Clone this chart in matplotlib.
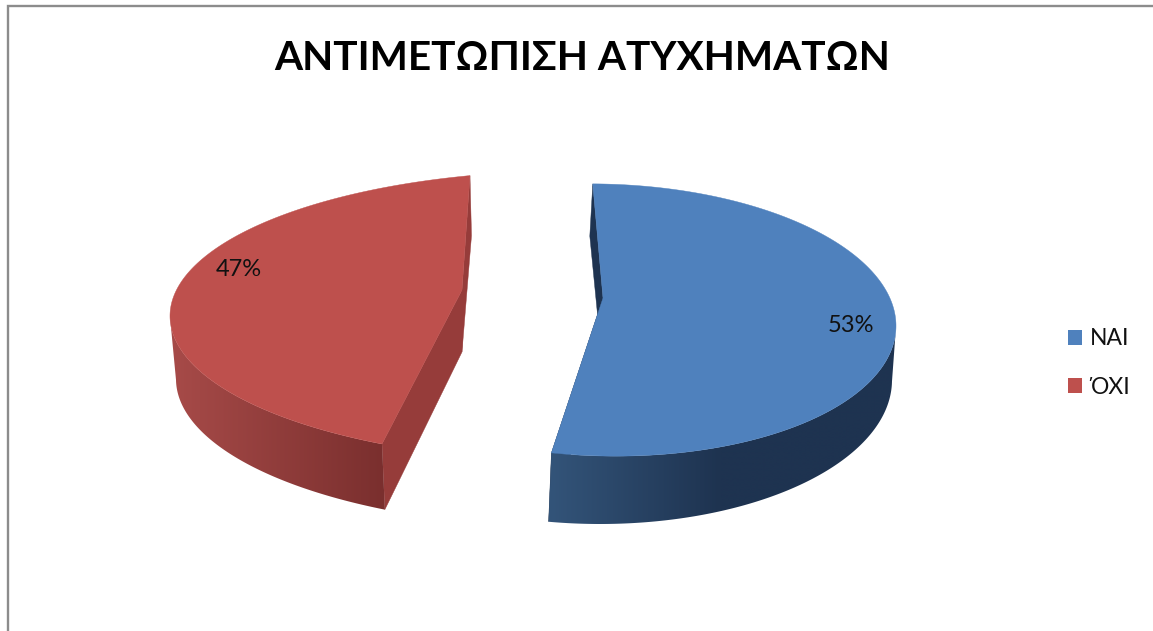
import numpy as np
import matplotlib
matplotlib.use("Agg")
import matplotlib.pyplot as plt
from matplotlib.patches import Polygon, Patch
from matplotlib.colors import to_rgb

# ---- data ----
categories = ["ΝΑΙ", "ΌΧΙ"]
values = [53, 47]
title_text = "ΑΝΤΙΜΕΤΩΠΙΣΗ ΑΤΥΧΗΜΑΤΩΝ"

# ---- styles ----
face_colors = ["#4F81BD", "#BE504D"]
wall_left = ["#335479", "#A64A48"]
wall_right = ["#1E3350", "#7A2F2E"]
cut_colors = ["#1E3350", "#963C3A"]
FONT = ["Lato", "Noto Sans"]

# perspective description of each exploded slice (ellipse of upper and lower rim, apex,
# start of the rim parameter, angle scale, silhouette angle, x-range of the shading)
geom = [
    dict(up=(603, 320, 293, 136, 0.02), lo=(600, 380, 292, 144, 0.0),
         apex_u=(603, 298), apex_l=(602, 360), t0=-2.0, scale=1.007,
         sil=90.0, grad=(550, 720)),
    dict(up=(570, 316, 400, 145, 0.0), lo=(570, 379, 394, 148, 0.0),
         apex_u=(462, 290), apex_l=(462, 352), t0=208.03, scale=0.8126,
         sil=270.0, grad=(176, 385)),
]


def rim(e, t_deg):
    xc, yc, rx, ry, tilt = e
    t = np.radians(np.asarray(t_deg, float))
    x = xc + rx * np.sin(t)
    y = yc + tilt * (x - xc) - ry * np.cos(t)
    return np.c_[x, y]


fig = plt.figure(figsize=(11.53, 6.31), dpi=100)
ax = fig.add_axes([0, 0, 1, 1])
ax.axis("off")

# chart frame (left and top edges only are visible)
ax.plot([7.8, 7.8, 1153], [631, 6.2, 6.2], color="#8C8C8C", lw=1.7, solid_joinstyle="miter")

edges = np.r_[0, np.cumsum(np.array(values) / sum(values))] * 360.0

for i, g in enumerate(geom):
    a0, a1 = edges[i], edges[i + 1]
    t = g["t0"] + (np.linspace(a0, a1, 300) - a0) * g["scale"]
    up = rim(g["up"], t)
    lo = rim(g["lo"], t)
    # the end of each slice that lies at the front / back
    front_t = t[-1] if i == 0 else t[0]
    back_t = t[0] if i == 0 else t[-1]
    fu, fl = rim(g["up"], [front_t])[0], rim(g["lo"], [front_t])[0]
    bu, bl = rim(g["up"], [back_t])[0], rim(g["lo"], [back_t])[0]

    # cut faces
    ax.add_patch(Polygon([bu, g["apex_u"], g["apex_l"], bl], closed=True, fc=cut_colors[i], ec=cut_colors[i], lw=0.3, zorder=2))
    ax.add_patch(Polygon([fu, g["apex_u"], g["apex_l"], fl], closed=True, fc=cut_colors[i], ec=cut_colors[i], lw=0.3, zorder=2))

    # outer wall: shaded image clipped to the visible wall band
    mask = (t >= g["sil"]) if i == 0 else (t <= g["sil"])
    wall = np.vstack([up[mask], lo[mask][::-1]])
    patch = Polygon(wall, closed=True, fc="none", ec="none", transform=ax.transData)
    ax.add_patch(patch)
    c0, c1 = np.array(to_rgb(wall_left[i])), np.array(to_rgb(wall_right[i]))
    xs = np.arange(wall[:, 0].min() - 3, wall[:, 0].max() + 3)
    f = np.clip((xs - g["grad"][0]) / (g["grad"][1] - g["grad"][0]), 0, 1)[:, None]
    img = (c0 + (c1 - c0) * f)[None, :, :]
    im = ax.imshow(img, extent=[xs[0], xs[-1], wall[:, 1].max() + 2, wall[:, 1].min() - 2],
                   aspect="auto", zorder=3, interpolation="bilinear")
    im.set_clip_path(patch)

    # top face
    ax.add_patch(Polygon(np.vstack([g["apex_u"], up]), closed=True, fc=face_colors[i], ec=face_colors[i], lw=0.3, zorder=4))

ax.set_xlim(0, 1153)
ax.set_ylim(631, 0)

# percentage labels
label_pos = [(851, 325), (239, 269)]
for v, (x, y) in zip(values, label_pos):
    ax.text(x, y, f"{v}%", fontsize=17, family=FONT, color="#111111", ha="center", va="center", zorder=5)

# title
ax.text(582.5, 59, title_text, fontsize=29.2, family=FONT, fontweight="bold", color="black", ha="center", va="center")

# legend
handles = [Patch(fc=c, ec="none") for c in face_colors]
ax.legend(handles, categories, loc="center left", bbox_to_anchor=(1068, 363), bbox_transform=ax.transData,
          frameon=False, prop={"family": FONT, "size": 16.5}, handlelength=0.62, handleheight=0.62,
          handletextpad=0.33, labelspacing=1.2, labelcolor="#111111", borderpad=0, borderaxespad=0)

fig.savefig("out.png", dpi=100, facecolor="white")
